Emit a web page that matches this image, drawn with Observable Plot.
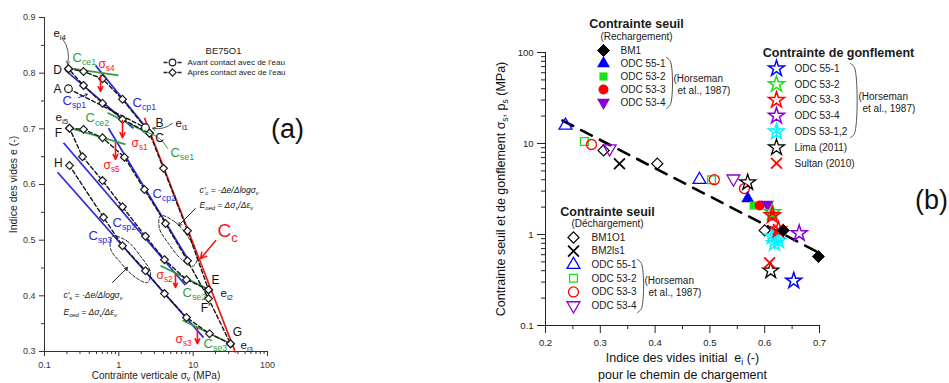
<!DOCTYPE html>
<html><head><meta charset="utf-8">
<script src="https://cdn.jsdelivr.net/npm/d3@7"></script>
<script src="https://cdn.jsdelivr.net/npm/@observablehq/plot@0.6"></script>
<style>
body{margin:0;background:#fff;}
#root{position:relative;width:949px;height:383px;overflow:hidden;background:#fff;}
#root svg{position:absolute;}
</style></head><body><div id="root"></div>
<script>
// ================= DATA =================
// ---- Panel (a): BE75O1, [sigma_v (MPa), e] ----
const pathAvant = [[0.210,0.772],[2.28,0.702]];
const pathCD = [[2.59,0.692],[1.12,0.717],[0.603,0.746],[0.335,0.778],[0.210,0.808]];
const pathDE = [[0.210,0.808],[0.335,0.803],[0.603,0.790],[1.12,0.753],[2.28,0.702],[2.59,0.692],[3.99,0.629],[8.39,0.517],[16.1,0.411]];
const pathEF = [[16.1,0.411],[8.13,0.429],[4.11,0.465],[2.28,0.507],[1.12,0.560],[0.603,0.607],[0.324,0.650],[0.217,0.701]];
const pathFG = [[0.217,0.701],[0.335,0.699],[0.603,0.684],[1.19,0.649],[2.21,0.591],[4.25,0.530],[8.39,0.463],[16.1,0.395],[31.8,0.314]];
const pathGH = [[31.8,0.314],[16.6,0.332],[8.13,0.361],[4.11,0.404],[2.28,0.445],[1.12,0.490],[0.622,0.541],[0.217,0.634]];
const loopCc = [[3.64,0.544],[5.78,0.532],[9.2,0.499],[11.4,0.467],[9.8,0.453],[6.76,0.467],[4.66,0.494],[3.52,0.521]];
const loopCs = [[0.822,0.507],[1.27,0.499],[1.96,0.471],[2.67,0.442],[2.43,0.424],[1.68,0.433],[1.05,0.460],[0.773,0.485]];

const blueLines = [
  {x1:0.486,y1:0.814,x2:2.51,y2:0.697},   // Ccp1
  {x1:0.192,y1:0.805,x2:1.57,y2:0.701},   // Csp1
  {x1:0.726,y1:0.701,x2:8.39,y2:0.467},   // Ccp2
  {x1:0.180,y1:0.675,x2:7.89,y2:0.419},   // Csp2
  {x1:0.150,y1:0.622,x2:13.8,y2:0.325}    // Csp3
];
const ccLine = [{x1:2.21,y1:0.720,x2:37.1,y2:0.298}];
const greenLines = [
  {x1:0.238,y1:0.808,x2:0.990,y2:0.796},  // Cce1
  {x1:0.705,y1:0.729,x2:2.84,y2:0.688},   // Cse1
  {x1:0.224,y1:0.701,x2:1.23,y2:0.672},   // Cce2
  {x1:3.64,y1:0.454,x2:17.1,y2:0.410},    // Cse2
  {x1:7.19,y1:0.356,x2:31.8,y2:0.314}     // Cse3
];
const sigmaArrows = [
  {x1:0.567,y1:0.796,x2:0.567,y2:0.767},
  {x1:1.12,y1:0.715,x2:1.12,y2:0.684},
  {x1:0.902,y1:0.675,x2:0.902,y2:0.645},
  {x1:5.78,y1:0.440,x2:5.78,y2:0.415},
  {x1:11.4,y1:0.343,x2:11.4,y2:0.314}
];
const grayArrows = [{x1:0.175,y1:0.862,x2:0.204,y2:0.816},{x1:5.27,y1:0.710,x2:2.84,y2:0.701}];
const greenArrows = [{x1:4.52,y1:0.665,x2:2.08,y2:0.695}];
const blueArrows = [{x1:0.286,y1:0.756,x2:0.379,y2:0.762}];
const ccArrows = [{x1:20.0,y1:0.499,x2:12.6,y2:0.467}];
const formulaArrows = [{x1:10.7,y1:0.557,x2:6.35,y2:0.526},{x1:0.822,y1:0.424,x2:1.31,y2:0.451}];

const pointLetters = [
  {t:"D",x:0.150,y:0.805},{t:"A",x:0.150,y:0.772},{t:"F",x:0.154,y:0.693},{t:"H",x:0.154,y:0.638},
  {t:"B",x:3.52,y:0.710},{t:"C",x:3.52,y:0.684},{t:"E",x:20.0,y:0.428},{t:"F'",x:14.7,y:0.377},{t:"G",x:39.5,y:0.334}
];
const eLabels = [
  {t:"e_{i4}",x:0.132,y:0.871},{t:"e_{i5}",x:0.141,y:0.720},{t:"e_{i1}",x:5.78,y:0.710},
  {t:"e_{i2}",x:23.3,y:0.404},{t:"e_{i3}",x:43.3,y:0.311}
];
const blueLabels = [
  {t:"C_{sp1}",x:0.175,y:0.751},{t:"C_{cp1}",x:1.53,y:0.747},{t:"C_{cp2}",x:2.84,y:0.584},
  {t:"C_{sp2}",x:0.822,y:0.532},{t:"C_{sp3}",x:0.391,y:0.508}
];
const greenLabels = [
  {t:"C_{ce1}",x:0.238,y:0.828},{t:"C_{ce2}",x:0.356,y:0.719},{t:"C_{se1}",x:4.95,y:0.657},
  {t:"C_{se2}",x:7.19,y:0.406},{t:"C_{se3}",x:13.8,y:0.314}
];
const sigmaLabels = [
  {t:"σ_{s4}",x:0.532,y:0.817},{t:"σ_{s1}",x:1.48,y:0.675},{t:"σ_{s5}",x:0.622,y:0.634},
  {t:"σ_{s2}",x:3.21,y:0.437},{t:"σ_{s3}",x:5.78,y:0.323}
];
const ccLabel = [{t:"C_{c}",x:21.2,y:0.517}];
const formulaLabels = [
  {t:"c'_{c} = -Δe/Δlogσ_{v}",x:12.2,y:0.589},{t:"E_{oed} = Δσ_{v}/Δε_{v}",x:12.2,y:0.562},
  {t:"c'_{s} = -Δe/Δlogσ_{v}",x:0.180,y:0.401},{t:"E_{oed} = Δσ_{v}/Δε_{v}",x:0.180,y:0.370}
];
const aXTicks = [0.1,1,10,100];
const aXMinor = [0.2,0.3,0.4,0.5,0.6,0.7,0.8,0.9,2,3,4,5,6,7,8,9,20,30,40,50,60,70,80,90];
const aYTicks = [0.3,0.4,0.5,0.6,0.7,0.8,0.9];
const aYMinor = [0.35,0.45,0.55,0.65,0.75,0.85];
const aLegendNames = ["Avant contact avec de l'eau","Après contact avec de l'eau"];

// ---- Panel (b): [e_i, sigma (MPa)] ----
const rechBM1 = [[0.634,1.11],[0.698,0.573]];
const rechODC551 = [[0.569,2.49]];
const rechODC532 = [[0.580,2.08]];
const rechODC533 = [[0.591,2.08],[0.614,1.62]];
const rechODC534 = [[0.605,2.14]];
const dechBM1O1 = [[0.306,8.4],[0.404,6.0],[0.600,1.11]];
const dechBM2ls1 = [[0.335,6.0]];
const dechODC551 = [[0.2365,15.8],[0.481,4.0]];
const dechODC532 = [[0.271,10.5],[0.503,4.0]];
const dechODC533 = [[0.284,9.75],[0.508,4.0],[0.563,3.2]];
const dechODC534 = [[0.317,8.8],[0.543,4.1]];
const gonfODC551 = [[0.653,0.31]];
const gonfODC532 = [[0.614,1.75]];
const gonfODC533 = [[0.614,1.62],[0.625,1.13]];
const gonfODC534 = [[0.663,1.03]];
const gonfODS5312 = [[0.614,0.95],[0.625,0.86],[0.618,0.80]];
const gonfLima = [[0.569,3.73],[0.611,0.40]];
const gonfSultan = [[0.609,0.49],[0.625,1.13]];
const trendLine = [[0.231,17.9],[0.702,0.618]];
const bXTicks = [0.2,0.3,0.4,0.5,0.6,0.7];
const bXMinor = [0.25,0.35,0.45,0.55,0.65];
const bYTicks = [0.1,1,10,100];
const bYMinor = [0.2,0.3,0.4,0.5,0.6,0.7,0.8,0.9,2,3,4,5,6,7,8,9,20,30,40,50,60,70,80,90];
const legRechNames = ["BM1","ODC 55-1","ODC 53-2","ODC 53-3","ODC 53-4"];
const legDechNames = ["BM1O1","BM2ls1","ODC 55-1","ODC 53-2","ODC 53-3","ODC 53-4"];
const legGonfNames = ["ODC 55-1","ODC 53-2","ODC 53-3","ODC 53-4","ODS 53-1,2","Lima (2011)","Sultan (2010)"];

// ================= STYLE =================
const FONT = '"Liberation Sans", Arial, Helvetica, sans-serif';
const COL = {blue:"#0000ff", green:"#19e019", red:"#ff0000", purple:"#8a00d0", cyan:"#00f4ff", black:"#000"};
const BLUE_A = "#2a2ae0", GREEN_A = "#2f9e3c", RED_A = "#ee1b1b";
const root = document.getElementById("root");
function place(svg, left, top){ svg.style.left = left+"px"; svg.style.top = top+"px"; root.appendChild(svg); }

const ST = {
  rBM1:[{symbol:"diamond2", r:5.4, fill:COL.black, stroke:COL.black, strokeWidth:1}],
  rODC551:[{symbol:"triangle", r:4.8, fill:COL.blue}],
  rODC532:[{symbol:"square", r:4.6, fill:COL.green}],
  rODC533:[{symbol:"circle", r:5, fill:COL.red}],
  rODC534:[{symbol:"triangle", r:4.8, fill:COL.purple, rotate:180}],
  dBM1O1:[{symbol:"diamond2", r:5, fill:"none", stroke:COL.black, strokeWidth:1.2}],
  dBM2ls1:[{symbol:"times", r:5, fill:"none", stroke:COL.black, strokeWidth:1.8}],
  dODC551:[{symbol:"triangle", r:4.8, fill:"none", stroke:COL.blue, strokeWidth:1.3}],
  dODC532:[{symbol:"square", r:4.4, fill:"none", stroke:COL.green, strokeWidth:1.3}],
  dODC533:[{symbol:"circle", r:5, fill:"none", stroke:COL.red, strokeWidth:1.3}],
  dODC534:[{symbol:"triangle", r:4.8, fill:"none", stroke:COL.purple, strokeWidth:1.3, rotate:180}],
  gODC551:[{symbol:"star", r:5, fill:"none", stroke:COL.blue, strokeWidth:1.5}],
  gODC532:[{symbol:"star", r:5, fill:"none", stroke:COL.green, strokeWidth:1.5}],
  gODC533:[{symbol:"star", r:5, fill:"none", stroke:COL.red, strokeWidth:1.5}],
  gODC534:[{symbol:"star", r:5, fill:"none", stroke:COL.purple, strokeWidth:1.5}],
  gODS:[{symbol:"star", r:5, fill:"none", stroke:COL.cyan, strokeWidth:1.5},{symbol:"asterisk", r:5.5, fill:"none", stroke:COL.cyan, strokeWidth:1.3}],
  gLima:[{symbol:"star", r:5, fill:"none", stroke:COL.black, strokeWidth:1.3}],
  gSultan:[{symbol:"times", r:5, fill:"none", stroke:COL.red, strokeWidth:1.8}]
};
const dotsOf = (arr, specs) => specs.map(s => Plot.dot(arr, {x:d=>d[0], y:d=>d[1], ...s}));

// ================= PANEL (a) =================
const dashedA = {x:d=>d[0], y:d=>d[1], stroke:"#161616", strokeWidth:1.4, strokeDasharray:"4,2.5"};
const diaA = {x:d=>d[0], y:d=>d[1], symbol:"diamond2", r:3.5, fill:"white", stroke:"#1a1a1a", strokeWidth:1.2};
const lnk = {x1:"x1", y1:"y1", x2:"x2", y2:"y2"};
const txt = {x:"x", y:"y", text:"t"};
const allPaths = [pathCD, pathDE, pathEF, pathFG, pathGH];

const plotA = Plot.plot({
  width: 320, height: 383, marginLeft: 44, marginRight: 53, marginTop: 17, marginBottom: 32,
  x: {type:"log", domain:[0.1,100], axis:null},
  y: {domain:[0.3,0.9], axis:null},
  style: {fontFamily: FONT, fontSize:"9px", color:"#333", background:"transparent", overflow:"visible"},
  marks: [
    Plot.ruleY([0.3], {x1:0.1, x2:100, stroke:"#333"}),
    Plot.ruleX([0.1], {y1:0.3, y2:0.9, stroke:"#333"}),
    Plot.axisY(aYTicks, {tickSize:5, tickPadding:4, tickFormat:d=>d.toFixed(1), label:null, fontSize:9}),
    Plot.axisY(aYMinor, {tickSize:3, tickFormat:()=>"", label:null}),
    Plot.axisX(aXTicks, {tickSize:5, tickPadding:5, tickFormat:d=>String(d), label:null, fontSize:9}),
    Plot.axisX(aXMinor, {tickSize:3, tickFormat:()=>"", label:null}),
    Plot.text(["Indice des vides e (-)"], {frameAnchor:"left", textAnchor:"middle", lineAnchor:"middle", dx:-31, rotate:-90, fontSize:10.5, fill:"#222"}),
    Plot.text(["Contrainte verticale σ_{v} (MPa)"], {frameAnchor:"bottom", lineAnchor:"middle", dy:24, fontSize:10, fill:"#222"}),
    Plot.line(loopCc, {x:d=>d[0], y:d=>d[1], curve:"catmull-rom-closed", stroke:"#222", strokeWidth:1, strokeDasharray:"3,2"}),
    Plot.line(loopCs, {x:d=>d[0], y:d=>d[1], curve:"catmull-rom-closed", stroke:"#222", strokeWidth:1, strokeDasharray:"3,2"}),
    Plot.link(blueLines, {...lnk, stroke:BLUE_A, strokeWidth:1.7}),
    Plot.link(greenLines, {...lnk, stroke:GREEN_A, strokeWidth:1.7}),
    Plot.link(ccLine, {...lnk, stroke:RED_A, strokeWidth:1.7}),
    Plot.line(pathAvant, dashedA),
    ...allPaths.map(p => Plot.line(p, dashedA)),
    ...allPaths.map(p => Plot.dot(p, diaA)),
    Plot.dot(pathAvant, {...diaA, symbol:"circle", r:3.8}),
    Plot.arrow(sigmaArrows, {...lnk, stroke:"#ff1010", strokeWidth:1.6, headLength:6, headAngle:50}),
    Plot.arrow(grayArrows, {...lnk, stroke:"#555", strokeWidth:1, headLength:5, bend:25}),
    Plot.arrow(greenArrows, {...lnk, stroke:GREEN_A, strokeWidth:1, headLength:5, bend:-30}),
    Plot.arrow(blueArrows, {...lnk, stroke:BLUE_A, strokeWidth:1, headLength:4}),
    Plot.arrow(ccArrows, {...lnk, stroke:RED_A, strokeWidth:1.6, headLength:6}),
    Plot.arrow(formulaArrows, {...lnk, stroke:"#222", strokeWidth:1, headLength:5}),
    Plot.text(pointLetters, {...txt, fontSize:12, fill:"#111"}),
    Plot.text(eLabels, {...txt, textAnchor:"start", fontSize:11.5, fill:"#111"}),
    Plot.text(blueLabels, {...txt, textAnchor:"start", fontSize:13, fill:BLUE_A}),
    Plot.text(greenLabels, {...txt, textAnchor:"start", fontSize:13, fill:GREEN_A}),
    Plot.text(sigmaLabels, {...txt, textAnchor:"start", fontSize:12, fill:"#ff1010"}),
    Plot.text(ccLabel, {...txt, textAnchor:"start", fontSize:19, fill:RED_A}),
    Plot.text(formulaLabels, {...txt, textAnchor:"start", fontSize:8.5, fontStyle:"italic", fill:"#111"})
  ]
});
place(plotA, 0, 0);

// ================= PANEL (b) =================
const plotB = Plot.plot({
  width: 469, height: 383, marginLeft: 65, marginRight: 130, marginTop: 52, marginBottom: 58,
  x: {domain:[0.2,0.7], axis:null},
  y: {type:"log", domain:[0.1,100], axis:null},
  style: {fontFamily: FONT, fontSize:"9.5px", color:"#222", background:"transparent", overflow:"visible"},
  marks: [
    Plot.ruleX([0.2], {y1:0.1, y2:100, stroke:"#222"}),
    Plot.ruleY([0.1], {x1:0.2, x2:0.7, stroke:"#222"}),
    Plot.axisY(bYTicks, {tickSize:8, tickPadding:4, tickFormat:d=>String(d), label:null, fontSize:9.5}),
    Plot.axisY(bYMinor, {tickSize:4, tickFormat:()=>"", label:null}),
    Plot.axisX(bXTicks, {tickSize:8, tickPadding:6, tickFormat:d=>d.toFixed(1), label:null, fontSize:9.5}),
    Plot.axisX(bXMinor, {tickSize:4, tickFormat:()=>"", label:null}),
    Plot.text(["Contrainte seuil et de gonflement σ_{s}, p_{s} (MPa)"], {frameAnchor:"left", textAnchor:"middle", lineAnchor:"middle", dx:-45, rotate:-90, fontSize:12.5, fill:"#111"}),
    Plot.text(["Indice des vides initial  e_{i} (-)"], {frameAnchor:"bottom", lineAnchor:"middle", dy:32, fontSize:12.5, fill:"#111"}),
    Plot.text(["pour le chemin de chargement"], {frameAnchor:"bottom", lineAnchor:"middle", dy:49, fontSize:12.5, fill:"#111"}),
    Plot.line(trendLine, {x:d=>d[0], y:d=>d[1], stroke:"#000", strokeWidth:2.6, strokeDasharray:"12,9"}),
    ...dotsOf(dechBM1O1, ST.dBM1O1),
    ...dotsOf(dechBM2ls1, ST.dBM2ls1),
    ...dotsOf(dechODC551, ST.dODC551),
    ...dotsOf(dechODC532, ST.dODC532),
    ...dotsOf(dechODC533, ST.dODC533),
    ...dotsOf(dechODC534, ST.dODC534),
    ...dotsOf(rechODC551, ST.rODC551),
    ...dotsOf(rechODC532, ST.rODC532),
    ...dotsOf(rechODC533, ST.rODC533),
    ...dotsOf(rechODC534, ST.rODC534),
    ...dotsOf(gonfODS5312, ST.gODS),
    ...dotsOf(gonfODC551, ST.gODC551),
    ...dotsOf(gonfODC532, ST.gODC532),
    ...dotsOf(gonfODC533, ST.gODC533),
    ...dotsOf(gonfODC534, ST.gODC534),
    ...dotsOf(gonfLima, ST.gLima),
    ...dotsOf(gonfSultan, ST.gSultan),
    ...dotsOf(rechBM1, ST.rBM1)
  ]
});
place(plotB, 480, 0);

// ================= OVERLAY (legends, panel tags) =================
const ov = [];
const T = (x, y, t, o={}) => ov.push(Plot.text([{x,y,t}], {x:"x", y:"y", text:"t", fill:"#1a1a1a", ...o}));
function legendBlock(names, specs, mx, tx, y0, dy){
  names.forEach((n,i) => {
    const y = y0 + i*dy;
    specs[i].forEach(s => ov.push(Plot.dot([{x:mx,y}], {x:"x", y:"y", ...s})));
    T(tx, y, n, {textAnchor:"start", fontSize:10});
  });
}
function bracket(x, y0, y1){
  ov.push(Plot.line([{x:x-4,y:y0},{x:x,y:y0+4},{x:x,y:y1-4},{x:x-4,y:y1}], {x:"x", y:"y", stroke:"#555", strokeWidth:1, curve:"catmull-rom"}));
}
T(223, 50, "BE75O1", {fontSize:9.5});
[0,1].forEach(i => {
  const y = 62 + i*10;
  ov.push(Plot.link([{x1:163,x2:182,y}], {x1:"x1", x2:"x2", y1:"y", y2:"y", stroke:"#222", strokeWidth:1.3, strokeDasharray:"4,3"}));
  ov.push(Plot.dot([{x:172,y}], {x:"x", y:"y", symbol: i ? "diamond2" : "circle", r:3.3, fill:"white", stroke:"#222", strokeWidth:1.2}));
  T(187, y, aLegendNames[i], {textAnchor:"start", fontSize:8});
});
T(636, 23, "Contrainte seuil", {fontSize:12.5, fontWeight:"bold"});
T(636, 36, "(Rechargement)", {fontSize:10});
legendBlock(legRechNames, [ST.rBM1, ST.rODC551, ST.rODC532, ST.rODC533, ST.rODC534], 603, 620, 50, 13);
bracket(670, 57, 108);
T(673, 78, "(Horseman", {textAnchor:"start", fontSize:10});
T(677, 90, "et al., 1987)", {textAnchor:"start", fontSize:10});

T(838, 52, "Contrainte de gonflement", {fontSize:12.5, fontWeight:"bold"});
legendBlock(legGonfNames, [ST.gODC551, ST.gODC532, ST.gODC533, ST.gODC534, ST.gODS, ST.gLima, ST.gSultan], 776, 794, 68, 15.8);
bracket(854, 63, 137);
T(858, 96, "(Horseman", {textAnchor:"start", fontSize:10});
T(862, 108, "et al., 1987)", {textAnchor:"start", fontSize:10});

T(607, 211, "Contrainte seuil", {fontSize:12.5, fontWeight:"bold"});
T(607, 223, "(Déchargement)", {fontSize:10});
legendBlock(legDechNames, [ST.dBM1O1, ST.dBM2ls1, ST.dODC551, ST.dODC532, ST.dODC533, ST.dODC534], 573, 591, 237, 13.6);
bracket(641, 259, 312);
T(644, 280, "(Horseman", {textAnchor:"start", fontSize:10});
T(648, 292, "et al., 1987)", {textAnchor:"start", fontSize:10});

T(287, 129, "(a)", {fontSize:27, fill:"#111"});
T(931, 200, "(b)", {fontSize:27, fill:"#111"});

const overlay = Plot.plot({
  width: 949, height: 383, margin: 0,
  x: {type:"identity", axis:null}, y: {type:"identity", axis:null},
  style: {fontFamily: FONT, background:"transparent", overflow:"visible"},
  marks: ov
});
overlay.style.pointerEvents = "none";
place(overlay, 0, 0);

// ================= subscripts =================
function subify(scope){
  scope.querySelectorAll("text").forEach(t => {
    const kids = t.querySelectorAll("tspan");
    const targets = kids.length ? Array.from(kids) : [t];
    targets.forEach(el => {
      const s = el.textContent;
      if (!s.includes("_{")) return;
      const fs = parseFloat(getComputedStyle(el).fontSize) || 10;
      const parts = s.split(/(_\{[^}]*\})/);
      el.textContent = "";
      let shifted = false;
      parts.forEach(p => {
        if (!p) return;
        const ts = document.createElementNS("http://www.w3.org/2000/svg", "tspan");
        if (p.startsWith("_{")) {
          ts.textContent = p.slice(2, -1);
          ts.setAttribute("font-size", (fs*0.68).toFixed(1));
          ts.setAttribute("dy", (fs*0.25).toFixed(1));
          shifted = true;
        } else {
          ts.textContent = p;
          if (shifted) { ts.setAttribute("dy", (-fs*0.25).toFixed(1)); shifted = false; }
        }
        el.appendChild(ts);
      });
    });
  });
}
subify(root);
</script>
</body></html>
